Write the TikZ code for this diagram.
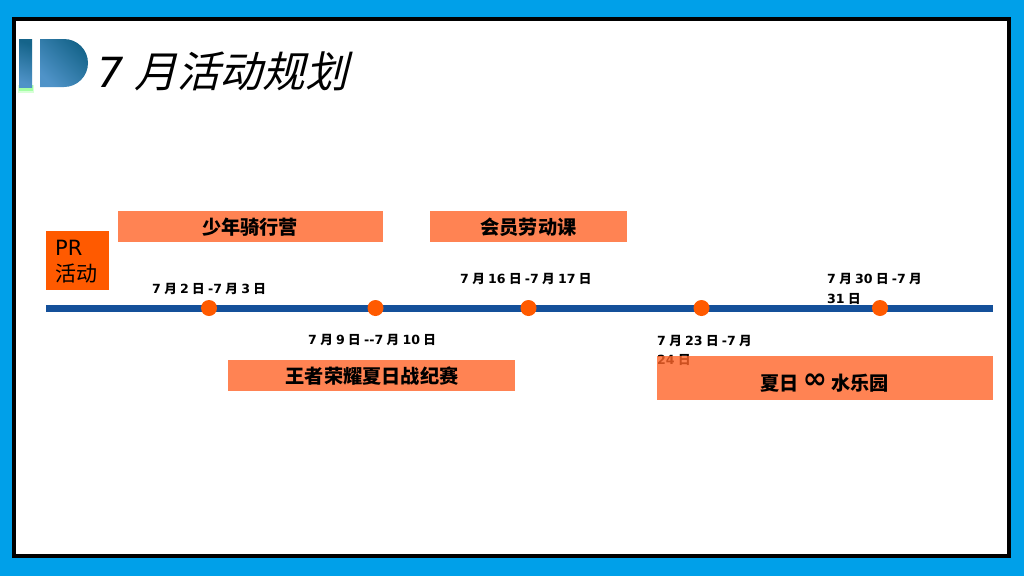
\documentclass[tikz,border=0pt]{standalone}
\usepackage{fontspec}
\setmainfont{DejaVu Sans}
\newfontfamily\cjk{Noto Sans CJK SC}
\newfontfamily\cjkslant[AutoFakeSlant=0.25]{Noto Sans CJK SC}
\newcommand{\yue}{{\cjk\bfseries 月}}
\newcommand{\ri}{{\cjk\bfseries 日}}
\newcommand{\gap}{\hspace{3.3pt}}
\definecolor{skyblue}{HTML}{00A0E9}
\definecolor{linkblue}{HTML}{14509A}
\definecolor{dotorange}{HTML}{FF5A00}
\definecolor{boxorange}{HTML}{FF6428}
\definecolor{logodark}{HTML}{15648A}
\definecolor{logolight}{HTML}{4F93C8}
\tikzset{
  eventbox/.style={inner sep=0pt,fill=boxorange,fill opacity=.8,text opacity=1},
  eventtext/.style={font=\fontsize{19.2}{19.2}\cjk\bfseries,text=black},
  datelabel/.style={font=\fontsize{12.6}{19.5}\selectfont\bfseries,anchor=north west,inner sep=0pt,align=left},
  daydot/.style={circle,fill=dotorange,inner sep=0pt,minimum size=16pt},
}

\begin{document}
\begin{tikzpicture}[x=1pt,y=-1pt]
    \useasboundingbox (0,0) rectangle (1024,576);
    \fill[skyblue] (0,0) rectangle (1024,576);
    \draw[line width=4.5pt,fill=white] (14,19) rectangle (1009,556);

    % logo
    \fill[green!60!white,opacity=.25] (18,85) rectangle (34,93);
    \fill[green!60!white,opacity=.45] (19,85) rectangle (33,91);
    \shade[left color=logodark,right color=logolight,shading angle=-20] (19,39) rectangle (32,87);
    \shade[left color=logodark,right color=logolight,shading angle=-45]
      (40,39) -- (64,39) arc[start angle=90,end angle=-90,radius=24pt] -- (40,87) -- cycle;

    \node[anchor=west,inner sep=0pt,font=\fontsize{41.5}{41.5}\selectfont\itshape] (title) at (97,71)
      {7\hspace{11pt}{\fontsize{42.6}{42.6}\cjkslant 月活动规划}};

    % date labels first, the boxes lie over them
    \node[datelabel] (datea) at (152,283.5) {7\gap\yue\gap 2\gap\ri\gap -7\gap\yue\gap 3\gap\ri};
    \node[datelabel] (dateb) at (308,334.5) {7\gap\yue\gap 9\gap\ri\gap -{}-7\gap\yue\gap 10\gap\ri};
    \node[datelabel] (datec) at (460,273.5) {7\gap\yue\gap 16\gap\ri\gap -7\gap\yue\gap 17\gap\ri};
    \node[datelabel] (dated) at (657,335) {7\gap\yue\gap 23\gap\ri\gap -7\gap\yue\\24\gap\ri};
    \node[datelabel] (datee) at (827,273.5) {7\gap\yue\gap 30\gap\ri\gap -7\gap\yue\\31\gap\ri};

    \node[eventbox,minimum width=265pt,minimum height=31pt] (camp) at (250.5,226) {};
    \node[eventtext] at (250,227) {少年骑行营};
    \node[eventbox,minimum width=197pt,minimum height=31pt] (labor) at (528.5,226) {};
    \node[eventtext] at (528.5,227) {会员劳动课};
    \node[eventbox,minimum width=287pt,minimum height=31pt] (game) at (371.5,375) {};
    \node[eventtext] at (372,376) {王者荣耀夏日战纪赛};
    \node[eventbox,minimum width=336pt,minimum height=44pt] (park) at (825,378) {};
    \node[eventtext] at (824.5,383) {夏日 {\fontsize{29}{29}\selectfont\rmfamily\bfseries\raisebox{2pt}{∞}} 水乐园};

    \node[fill=dotorange,inner sep=0pt,minimum width=63pt,minimum height=59pt] (pr) at (77.5,260) {};
    \node[anchor=west,inner sep=0pt,align=left,font=\fontsize{21}{26}\selectfont] (prtext) at (55,262) {PR\\{\cjk 活动}};

    % timeline
    \coordinate (linestart) at (46,308);
    \coordinate (lineend) at (993,308);
    \draw[linkblue,line width=7pt] (linestart) -- (lineend);
    \foreach \name/\xpos in {a/209,b/375.5,c/528.5,d/701.5,e/880}
      \node[daydot] (dot\name) at (\xpos,308) {};
\end{tikzpicture}
\end{document}
